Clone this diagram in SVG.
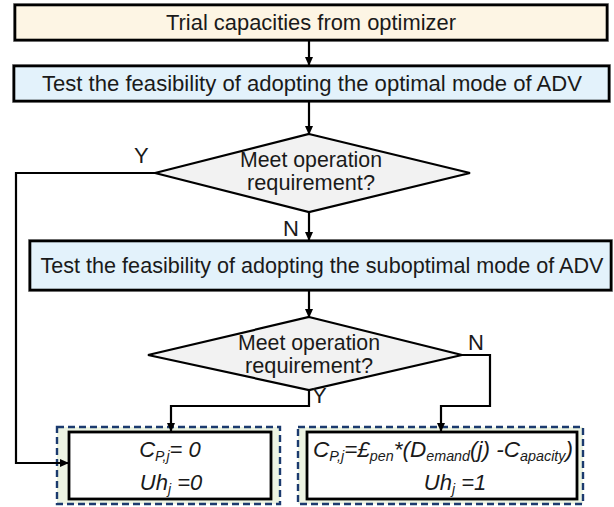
<svg xmlns="http://www.w3.org/2000/svg" width="614" height="507" viewBox="0 0 614 507">
  <defs>
    <marker id="arrow" markerWidth="9" markerHeight="8" refX="8" refY="4" orient="auto" markerUnits="userSpaceOnUse">
      <path d="M0,0 L9,4 L0,8 Z" fill="#000"/>
    </marker>
  </defs>
  <style>
    .box { stroke: #000; stroke-width: 2.6; }
    .halo { fill: none; stroke: #9a9a9a; stroke-width: 1; }
    .diamond { fill: #f2f2f2; stroke: #000; stroke-width: 2.2; }
    .wire { fill: none; stroke: #000; stroke-width: 2.2; }
    .dash { fill: #edf4e3; stroke: #1b3a6e; stroke-width: 2.4; stroke-dasharray: 7 4; }
    .inner { fill: #fff; stroke: #000; stroke-width: 2.8; }
    .t { font-family: "Liberation Sans", Arial, sans-serif; font-size: 22px; fill: #1a1a1a; text-anchor: middle; }
    .lbl { font-family: "Liberation Sans", Arial, sans-serif; font-size: 22px; fill: #1a1a1a; }
    .f { font-family: "Liberation Sans", Arial, sans-serif; font-style: italic; font-size: 22px; fill: #1a1a1a; text-anchor: middle; }
    .s { font-size: 14px; }
  </style>

  <g id="trial">
    <rect class="halo" x="13.5" y="3.5" width="595" height="38"/>
    <rect class="box" x="15" y="5" width="592" height="35" fill="#fdf5e4"/>
    <text class="t" x="311" y="30" textLength="290" lengthAdjust="spacingAndGlyphs">Trial capacities from optimizer</text>
  </g>

  <g id="test-optimal">
    <rect class="halo" x="12.5" y="64.5" width="598" height="38"/>
    <rect class="box" x="14" y="66" width="595" height="35" fill="#e3f2fb"/>
    <text class="t" x="312" y="91" textLength="540" lengthAdjust="spacingAndGlyphs">Test the feasibility of adopting the optimal mode of ADV</text>
  </g>

  <g id="check-optimal">
    <polygon class="diamond" points="309,134 470,173 309,212 155,173"/>
    <text class="t" x="311" y="167" textLength="142" lengthAdjust="spacingAndGlyphs">Meet operation</text>
    <text class="t" x="311" y="190" textLength="128" lengthAdjust="spacingAndGlyphs">requirement?</text>
  </g>

  <g id="test-suboptimal">
    <rect class="halo" x="28.5" y="239.5" width="584" height="52"/>
    <rect class="box" x="30" y="241" width="581" height="49" fill="#e3f2fb"/>
    <text class="t" x="322" y="273" textLength="563" lengthAdjust="spacingAndGlyphs">Test the feasibility of adopting the suboptimal mode of ADV</text>
  </g>

  <g id="check-suboptimal">
    <polygon class="diamond" points="309,317 462,355 309,390 148,355"/>
    <text class="t" x="309" y="350" textLength="142" lengthAdjust="spacingAndGlyphs">Meet operation</text>
    <text class="t" x="309" y="373" textLength="128" lengthAdjust="spacingAndGlyphs">requirement?</text>
  </g>

  <g id="feasible-result">
    <rect class="dash" x="57" y="427" width="223" height="77"/>
    <rect class="inner" x="69" y="432" width="202" height="67"/>
    <text class="f" x="170" y="457">C<tspan class="s" dy="4">P,j</tspan><tspan dy="-4">= 0</tspan></text>
    <text class="f" x="171" y="490">Uh<tspan class="s" dy="4">j</tspan><tspan dy="-4"> =0</tspan></text>
  </g>

  <g id="penalty-result">
    <rect class="dash" x="298" y="427" width="285" height="77"/>
    <rect class="inner" x="307" y="432" width="270" height="67"/>
    <text class="f" x="443" y="457" textLength="260" lengthAdjust="spacingAndGlyphs">C<tspan class="s" dy="4">P,j</tspan><tspan dy="-4">=£</tspan><tspan class="s" dy="4">pen</tspan><tspan dy="-4">*(D</tspan><tspan class="s" dy="4">emand</tspan><tspan dy="-4">(j)  -C</tspan><tspan class="s" dy="4">apacity</tspan><tspan dy="-4">)</tspan></text>
    <text class="f" x="455" y="490">Uh<tspan class="s" dy="4">j</tspan><tspan dy="-4"> =1</tspan></text>
  </g>

  <!-- connectors drawn last so the arrowheads sit on top of the boxes -->
  <g id="connectors">
    <line class="wire" x1="309" y1="41" x2="309" y2="65" marker-end="url(#arrow)"/>
    <line class="wire" x1="309" y1="102" x2="309" y2="134" marker-end="url(#arrow)"/>
    <line class="wire" x1="309" y1="212" x2="309" y2="240" marker-end="url(#arrow)"/>
    <line class="wire" x1="309" y1="291" x2="309" y2="317" marker-end="url(#arrow)"/>
    <polyline class="wire" points="155,173 16,173 16,463 68,463" marker-end="url(#arrow)"/>
    <polyline class="wire" points="309,390 309,406 171,406 171,431" marker-end="url(#arrow)"/>
    <polyline class="wire" points="462,355 490,355 490,406 441,406 441,431" marker-end="url(#arrow)"/>
    <text class="lbl" x="134" y="163">Y</text>
    <text class="lbl" x="283" y="236">N</text>
    <text class="lbl" x="468" y="350">N</text>
    <text class="lbl" x="312" y="403">Y</text>
  </g>
</svg>
